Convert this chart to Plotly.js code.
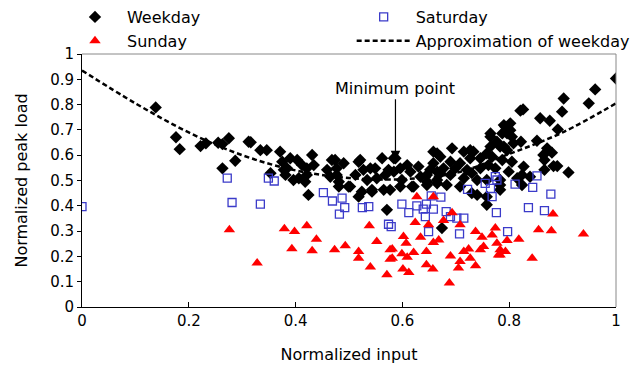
<!DOCTYPE html>
<html>
<head>
<meta charset="utf-8">
<script src="https://cdn.plot.ly/plotly-3.0.1.min.js"></script>
<style>html,body{margin:0;padding:0;background:#fff;}#chart{width:644px;height:377px;}</style>
</head>
<body>
<div id="chart"></div>
<script>
// Weekday points
const weekdayX = [0.138,0.176,0.183,0.222,0.232,0.255,0.263,0.275,0.263,0.287,0.312,0.316,0.334,0.346,0.371,0.375,0.39,0.403,0.431,0.384,0.381,0.412,0.421,0.434,0.396,0.406,0.418,0.421,0.424,0.459,0.465,0.474,0.477,0.481,0.49,0.521,0.477,0.502,0.512,0.527,0.534,0.524,0.543,0.549,0.562,0.552,0.565,0.568,0.574,0.587,0.584,0.596,0.599,0.609,0.615,0.618,0.63,0.634,0.646,0.652,0.658,0.665,0.646,0.665,0.671,0.571,0.674,0.74,0.758,0.577,0.596,0.621,0.646,0.683,0.708,0.821,0.826,0.802,0.793,0.802,0.787,0.765,0.777,0.805,0.808,0.783,0.796,0.765,0.758,0.733,0.715,0.693,0.727,0.746,0.768,0.787,0.708,0.69,0.671,0.677,0.699,0.721,0.746,0.761,0.665,0.69,0.715,0.74,0.73,0.774,0.799,0.815,0.824,0.839,0.783,0.758,0.665,0.783,0.73,1.0,0.961,0.902,0.949,0.899,0.858,0.876,0.891,0.852,0.822,0.871,0.88,0.864,0.866,0.883,0.89,0.866,0.911,0.827,0.805,0.79,0.796,0.79,0.783,0.824,0.353,0.378,0.468,0.518,0.54,0.584,0.518,0.481,0.499,0.543,0.765,0.758,0.658,0.727];
const weekdayY = [0.789,0.671,0.624,0.636,0.647,0.649,0.644,0.667,0.548,0.578,0.653,0.651,0.62,0.62,0.614,0.574,0.588,0.581,0.601,0.548,0.522,0.561,0.548,0.561,0.502,0.509,0.495,0.522,0.443,0.542,0.515,0.581,0.548,0.495,0.568,0.581,0.522,0.476,0.522,0.542,0.502,0.456,0.463,0.548,0.588,0.509,0.463,0.522,0.542,0.588,0.535,0.548,0.502,0.561,0.535,0.476,0.555,0.515,0.522,0.542,0.568,0.607,0.495,0.502,0.529,0.384,0.312,0.443,0.404,0.463,0.476,0.476,0.482,0.482,0.476,0.776,0.781,0.726,0.712,0.699,0.686,0.673,0.653,0.673,0.647,0.634,0.62,0.634,0.607,0.614,0.614,0.627,0.588,0.588,0.594,0.581,0.568,0.574,0.594,0.548,0.548,0.542,0.548,0.561,0.535,0.522,0.509,0.502,0.529,0.548,0.535,0.509,0.522,0.515,0.502,0.502,0.489,0.463,0.45,0.903,0.86,0.824,0.805,0.772,0.746,0.736,0.702,0.657,0.653,0.627,0.61,0.601,0.581,0.557,0.557,0.542,0.532,0.555,0.574,0.634,0.686,0.719,0.482,0.482,0.529,0.542,0.581,0.574,0.548,0.588,0.436,0.476,0.476,0.456,0.686,0.436,0.614,0.62];

// Saturday points
const saturdayX = [0.0,0.272,0.281,0.334,0.349,0.36,0.452,0.469,0.487,0.492,0.482,0.525,0.537,0.574,0.579,0.599,0.627,0.612,0.645,0.654,0.672,0.639,0.658,0.643,0.682,0.69,0.702,0.715,0.649,0.707,0.722,0.755,0.765,0.768,0.776,0.811,0.844,0.852,0.774,0.878,0.836,0.866,0.797,0.777];
const saturdayY = [0.397,0.509,0.413,0.407,0.509,0.498,0.452,0.419,0.43,0.393,0.367,0.393,0.397,0.327,0.318,0.407,0.4,0.373,0.407,0.439,0.434,0.387,0.387,0.357,0.377,0.357,0.351,0.351,0.298,0.289,0.465,0.489,0.469,0.436,0.373,0.486,0.473,0.518,0.515,0.446,0.393,0.381,0.298,0.502];

// Sunday points
const sundayX = [0.276,0.328,0.379,0.398,0.421,0.439,0.393,0.431,0.473,0.493,0.518,0.518,0.54,0.538,0.552,0.571,0.577,0.577,0.627,0.658,0.624,0.649,0.677,0.693,0.708,0.737,0.774,0.602,0.634,0.658,0.668,0.749,0.768,0.607,0.581,0.599,0.621,0.645,0.581,0.609,0.69,0.715,0.724,0.727,0.708,0.705,0.737,0.746,0.752,0.777,0.78,0.645,0.657,0.601,0.612,0.688,0.882,0.855,0.879,0.939,0.818,0.796,0.783,0.793,0.783,0.843];
const sundayY = [0.305,0.174,0.309,0.298,0.321,0.268,0.23,0.222,0.226,0.242,0.219,0.193,0.158,0.321,0.259,0.127,0.226,0.189,0.436,0.436,0.334,0.325,0.342,0.373,0.325,0.298,0.312,0.279,0.276,0.255,0.265,0.276,0.285,0.252,0.229,0.21,0.215,0.219,0.193,0.197,0.202,0.219,0.229,0.193,0.18,0.154,0.163,0.226,0.239,0.252,0.206,0.167,0.15,0.15,0.136,0.095,0.368,0.305,0.301,0.289,0.268,0.263,0.226,0.219,0.206,0.193];

// Approximation curve of weekday
const fitX = [0, 0.1, 0.2, 0.3, 0.4, 0.5, 0.6, 0.7, 0.8, 0.9, 1.0];
const fitY = [0.935, 0.805, 0.69, 0.60, 0.54, 0.51, 0.505, 0.53, 0.605, 0.69, 0.805];

const xTicks = [0, 0.2, 0.4, 0.6, 0.8, 1];
const xTickText = ['0', '0.2', '0.4', '0.6', '0.8', '1'];
const yTicks = [0, 0.1, 0.2, 0.3, 0.4, 0.5, 0.6, 0.7, 0.8, 0.9, 1];
const yTickText = ['0', '0.1', '0.2', '0.3', '0.4', '0.5', '0.6', '0.7', '0.8', '0.9', '1'];

const FONT = '"DejaVu Sans", sans-serif';

const traces = [
  {x: weekdayX, y: weekdayY, name: 'Weekday', type: 'scatter', mode: 'markers', legend: 'legend',
   marker: {symbol: 'diamond', size: 9.5, color: '#000000'}},
  {x: saturdayX, y: saturdayY, name: 'Saturday', type: 'scatter', mode: 'markers', legend: 'legend2',
   marker: {symbol: 'square-open', size: 8, color: '#3b3bc9', line: {width: 1.3, color: '#3b3bc9'}}},
  {x: sundayX, y: sundayY, name: 'Sunday', type: 'scatter', mode: 'markers', legend: 'legend',
   marker: {symbol: 'triangle-up', size: 10, color: '#ff0000'}},
  {x: fitX, y: fitY, name: 'Approximation of weekday', type: 'scatter', mode: 'lines', legend: 'legend2',
   line: {color: '#000000', width: 2.5, dash: '5px,3px', shape: 'spline'}}
];

const legendCommon = {orientation: 'v', yanchor: 'top', xanchor: 'left', itemwidth: 54,
  font: {family: FONT, size: 16, color: '#000'}, bgcolor: 'rgba(0,0,0,0)', traceorder: 'normal'};

const layout = {
  width: 644, height: 377,
  margin: {l: 82, r: 28, t: 54, b: 70, autoexpand: false},
  paper_bgcolor: '#ffffff', plot_bgcolor: '#ffffff',
  font: {family: FONT, size: 15, color: '#000000'},
  showlegend: true,
  legend: Object.assign({}, legendCommon, {x: -0.0356, y: 1.2134}),
  legend2: Object.assign({}, legendCommon, {x: 0.505, y: 1.2134}),
  xaxis: {range: [0, 1], tickvals: xTicks, ticktext: xTickText, ticks: 'inside', ticklen: 5,
          tickcolor: '#000', showline: true, linecolor: '#000', linewidth: 1, showgrid: false,
          zeroline: false, tickfont: {size: 15},
          title: {text: 'Normalized input', font: {size: 16}, standoff: 19}},
  yaxis: {range: [0, 1], tickvals: yTicks, ticktext: yTickText, ticks: 'outside', ticklen: 4,
          tickcolor: '#000', showline: true, linecolor: '#000', linewidth: 1, showgrid: false,
          zeroline: false, tickfont: {size: 15},
          title: {text: 'Normalized peak load', font: {size: 16}, standoff: 18}},
  shapes: [
    {type: 'line', xref: 'paper', yref: 'paper', x0: 0, x1: 1, y0: 1, y1: 1, line: {color: '#888888', width: 1}},
    {type: 'line', xref: 'paper', yref: 'paper', x0: 1, x1: 1, y0: 0, y1: 1, line: {color: '#888888', width: 1}}
  ],
  annotations: [
    {x: 0.587, y: 0.58, xref: 'x', yref: 'y', text: 'Minimum point', showarrow: true,
     ax: 0, ay: -72, arrowhead: 2, arrowsize: 1.6, arrowwidth: 1.2, arrowcolor: '#000',
     font: {size: 16, color: '#000'}}
  ]
};

Plotly.newPlot('chart', traces, layout, {displayModeBar: false, staticPlot: true});
</script>
</body>
</html>
